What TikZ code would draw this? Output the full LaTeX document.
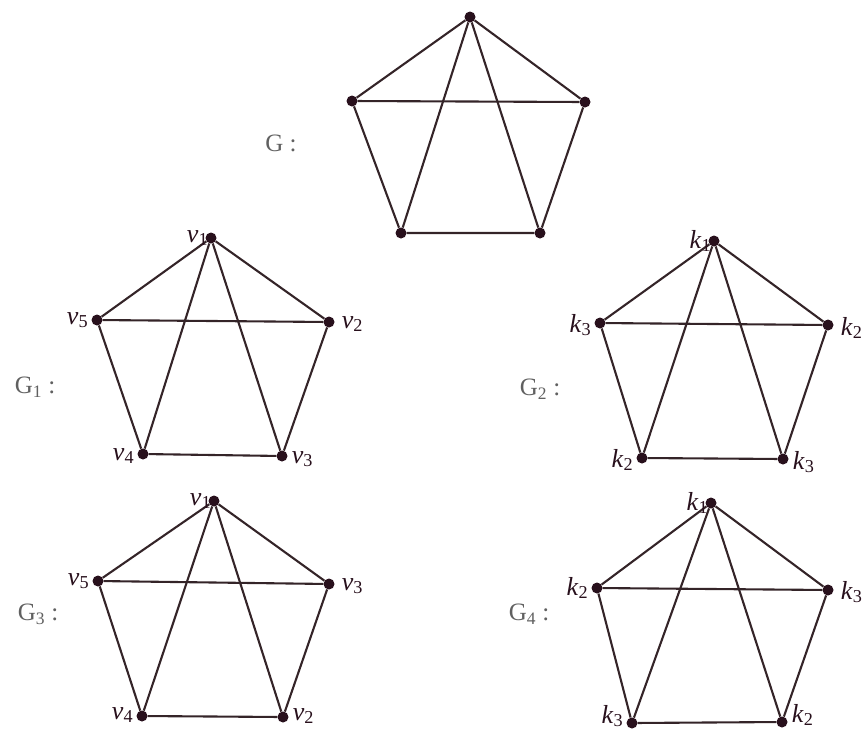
\documentclass[tikz,border=0pt]{standalone}
\usepackage{fontspec}
\setmainfont{Liberation Serif}
\usepackage{xcolor}
\usepackage{tikz}
\usetikzlibrary{positioning}
\definecolor{edgec}{RGB}{52, 36, 40}
\definecolor{vertc}{RGB}{40, 16, 28}
\definecolor{namec}{RGB}{96, 96, 96}
\newcommand{\vl}[2]{\textit{#1}\textsubscript{#2}}

\begin{document}
\begin{tikzpicture}[
    x=1pt, y=-1pt,
    node distance=3pt,
    vertex/.style={circle, fill=vertc, inner sep=0pt, minimum size=11pt},
    edge/.style={draw=edgec, line width=2.1pt, line join=round},
    lab/.style={inner sep=0pt, text=vertc, font=\fontsize{26}{30}\selectfont},
    gname/.style={inner sep=0pt, text=namec, font=\fontsize{25}{30}\selectfont}
]
\useasboundingbox (0,0) rectangle (864,732);

% G
\node[vertex] (gt) at (470,17) {};
\node[vertex] (gl) at (352,101) {};
\node[vertex] (gr) at (585,102) {};
\node[vertex] (gbl) at (401,233) {};
\node[vertex] (gbr) at (540,233) {};
\node[gname] (gname) at (281,143) {G :};
\draw[edge] (gt) -- (gl) -- (gbl) -- (gbr) -- (gr) -- (gt) -- (gbl);
\draw[edge] (gl) -- (gr);
\draw[edge] (gt) -- (gbr);

% G1
\node[vertex] (ot) at (211,238) {};
\node[vertex] (ol) at (97,320) {};
\node[vertex] (or) at (329,322) {};
\node[vertex] (obl) at (143,454) {};
\node[vertex] (obr) at (282,456) {};
\node[gname] (oname) at (35,387) {G\textsubscript{1} :};
\draw[edge] (ot) -- (ol) -- (obl) -- (obr) -- (or) -- (ot) -- (obl);
\draw[edge] (ol) -- (or);
\draw[edge] (ot) -- (obr);
\node[lab, left=-3pt of ot] (otl) {\vl{v}{1}};
\node[lab, left=of ol] (oll) {\vl{v}{5}};
\node[lab, right=7pt of or, yshift=-2pt] (orl) {\vl{v}{2}};
\node[lab, left=of obl, yshift=-2pt] (obll) {\vl{v}{4}};
\node[lab, right=4pt of obr, yshift=-3pt] (obrl) {\vl{v}{3}};

% G2
\node[vertex] (tt) at (714,241) {};
\node[vertex] (tl) at (600,323) {};
\node[vertex] (tr) at (828,325) {};
\node[vertex] (tbl) at (642,458) {};
\node[vertex] (tbr) at (783,459) {};
\node[gname] (tname) at (540,389) {G\textsubscript{2} :};
\draw[edge] (tt) -- (tl) -- (tbl) -- (tbr) -- (tr) -- (tt) -- (tbl);
\draw[edge] (tl) -- (tr);
\draw[edge] (tt) -- (tbr);
\node[lab, left=-3pt of tt] (ttl) {\vl{k}{1}};
\node[lab, left=of tl, yshift=-2pt] (tll) {\vl{k}{3}};
\node[lab, right=7pt of tr, yshift=-3pt] (trl) {\vl{k}{2}};
\node[lab, left=of tbl, yshift=-2pt] (tbll) {\vl{k}{2}};
\node[lab, right=4pt of tbr, yshift=-3pt] (tbrl) {\vl{k}{3}};

% G3
\node[vertex] (ht) at (214,501) {};
\node[vertex] (hl) at (98,581) {};
\node[vertex] (hr) at (329,584) {};
\node[vertex] (hbl) at (142,716) {};
\node[vertex] (hbr) at (283,717) {};
\node[gname] (hname) at (38,614) {G\textsubscript{3} :};
\draw[edge] (ht) -- (hl) -- (hbl) -- (hbr) -- (hr) -- (ht) -- (hbl);
\draw[edge] (hl) -- (hr);
\draw[edge] (ht) -- (hbr);
\node[lab, left=-3pt of ht] (htl) {\vl{v}{1}};
\node[lab, left=of hl] (hll) {\vl{v}{5}};
\node[lab, right=7pt of hr, yshift=-2pt] (hrl) {\vl{v}{3}};
\node[lab, left=of hbl, yshift=1pt] (hbll) {\vl{v}{4}};
\node[lab, right=4pt of hbr, yshift=1pt] (hbrl) {\vl{v}{2}};

% G4
\node[vertex] (ft) at (711,503) {};
\node[vertex] (fl) at (597,588) {};
\node[vertex] (fr) at (828,590) {};
\node[vertex] (fbl) at (632,723) {};
\node[vertex] (fbr) at (782,722) {};
\node[gname] (fname) at (529,614) {G\textsubscript{4} :};
\draw[edge] (ft) -- (fl) -- (fbl) -- (fbr) -- (fr) -- (ft) -- (fbl);
\draw[edge] (fl) -- (fr);
\draw[edge] (ft) -- (fbr);
\node[lab, left=-3pt of ft] (ftl) {\vl{k}{1}};
\node[lab, left=of fl] (fll) {\vl{k}{2}};
\node[lab, right=7pt of fr, yshift=-2pt] (frl) {\vl{k}{3}};
\node[lab, left=of fbl, yshift=7pt] (fbll) {\vl{k}{3}};
\node[lab, right=4pt of fbr, yshift=7pt] (fbrl) {\vl{k}{2}};

\end{tikzpicture}
\end{document}
